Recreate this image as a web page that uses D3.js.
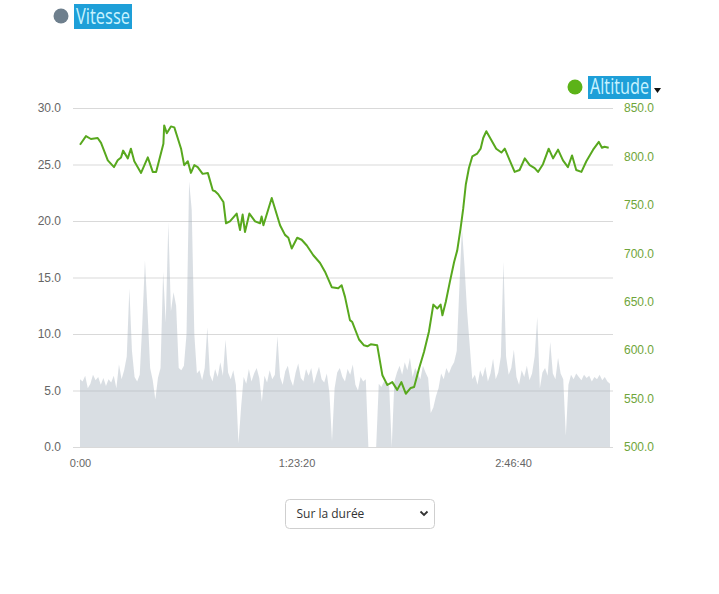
<!DOCTYPE html>
<html>
<head>
<meta charset="utf-8">
<script src="https://cdn.jsdelivr.net/npm/d3@7"></script>
<style>
  body { margin: 0; background: #fff; }
  svg { display: block; }
</style>
</head>
<body>
<svg width="719" height="594"></svg>
<script>
const width = 719
const height = 594

// speed (km/h), one reading per minute from 0:00
const speedValues = [
  6.0, 5.8, 6.3, 5.2, 5.6, 6.4, 5.9, 6.2, 5.5, 6.1,
  5.4, 6.0, 5.7, 6.3, 5.2, 7.3, 6.0, 6.8, 8.0, 14.0,
  8.5, 6.2, 5.8, 6.4, 11.0, 16.5, 12.0, 7.0, 5.9, 4.2,
  6.1, 7.0, 15.5, 11.0, 19.9, 12.0, 13.7, 12.5, 7.0, 6.8,
  7.2, 10.0, 23.5, 21.0, 10.0, 6.5, 6.8, 5.9, 7.0, 10.6,
  6.4, 5.8, 6.9, 6.2, 7.5, 6.3, 9.5, 6.6, 6.0, 6.8,
  5.5, 0.3, 3.5, 6.2, 5.6, 6.9, 5.8, 6.5, 7.0, 6.1,
  4.0, 6.3, 5.7, 6.8, 6.0, 6.4, 9.8, 6.2, 5.5, 6.7,
  7.2, 6.0, 5.4, 6.6, 7.4, 6.1, 5.8, 6.9, 6.3, 7.0,
  5.6, 6.4, 7.1, 6.0, 5.7, 6.5, 4.8, 0.5, 5.2, 6.6,
  7.0, 6.2, 5.8, 6.9, 6.4, 7.3, 5.5, 5.0, 6.2, 5.8,
  6.0, 0, 0, 0, 0, 5.6, 5.3, 5.8, 5.6, 5.4,
  0, 5.8, 6.6, 7.2, 6.4, 7.5, 6.8, 7.9, 6.2, 7.0,
  6.5, 6.0, 7.2, 6.6, 6.1, 3.0, 3.5, 4.5, 5.2, 6.5,
  6.0, 7.0, 6.5, 7.1, 7.5, 8.5, 14.0, 19.4, 16.0, 12.0,
  9.0, 6.0, 6.4, 5.5, 6.8, 6.2, 7.1, 5.8, 6.5, 7.8,
  6.0, 6.6, 8.0, 16.4, 8.0, 6.4, 7.0, 8.6, 6.2, 5.5,
  6.8, 6.2, 7.2, 5.9, 6.5, 8.0, 11.5, 5.2, 6.6, 7.0,
  6.3, 9.3, 6.5, 6.0, 7.9, 6.5, 6.0, 1.0, 5.5, 6.4,
  6.0, 6.5, 6.2, 5.9, 6.4, 6.1, 6.3, 5.8, 6.2, 6.0,
  6.4, 5.9, 6.2, 5.8, 5.6
]

// altitude (m) at elapsed minutes
const altMinutes = [
  0, 2.3, 4.2, 6.8, 8.1, 10.7, 13.1, 14.5, 15.8, 16.6, 18.4, 19.6, 20.9, 23.5, 26.1, 28.0, 29.3,
  32.1, 32.4, 33.4, 35.0, 36.3, 37.6, 38.9, 40.1, 41.5, 42.7, 44.0, 45.3, 47.2, 49.2, 51.1, 52.0,
  53.2, 55.2, 56.2, 57.7, 60.3, 61.6, 62.6, 63.5, 65.2, 67.4, 69.3, 69.9, 70.6, 73.8, 77.0, 78.9,
  80.2, 81.5, 83.6, 85.3, 87.3, 89.8, 92.4, 94.3, 96.9, 99.4, 100.7, 102.0, 103.9, 104.8, 107.4,
  109.3, 110.6, 111.9, 114.4, 116.4, 118.3, 120.2, 122.1, 123.7, 125.4, 127.3, 128.6, 130.5, 132.4,
  134.3, 136.0, 137.5, 138.8, 139.5, 140.8, 142.4, 144.0, 145.2, 146.5, 147.5, 148.5, 149.7, 151.0,
  152.9, 154.2, 155.2, 156.4, 158.3, 160.2, 162.2, 163.5, 165.4, 167.3, 169.2, 171.2, 173.1, 175.0,
  176.3, 178.2, 180.4, 182.1, 184.0, 185.9, 187.8, 189.4, 191.0, 193.0, 194.9, 197.5, 199.7, 200.9,
  201.9, 203.5
]
const altValues = [
  812, 821, 818, 819, 814, 796, 789, 796, 799, 806, 798, 808, 795, 783, 799, 784, 784,
  813, 832, 824, 831, 830, 819, 808, 791, 795, 783, 791, 789, 782, 783, 765, 764,
  761, 753, 731, 733, 741, 724, 740, 722, 741, 733, 731, 738, 729, 757, 729, 719,
  716, 705, 716, 714, 708, 698, 690, 681, 665, 664, 667, 655, 631, 629, 611,
  605, 604, 606, 605, 574, 564, 567, 559, 567, 555, 561, 562, 581, 598,
  619, 647, 643, 647, 636, 650, 671, 691, 703, 726, 746, 771, 788, 800,
  803, 808, 819, 826, 817, 808, 804, 808, 796, 784, 786, 798, 791, 788,
  784, 792, 808, 798, 807, 796, 789, 801, 786, 784, 795, 807, 815, 809,
  810, 809
]

const speedTicks = [0, 5, 10, 15, 20, 25, 30]
const altTicks = [500, 550, 600, 650, 700, 750, 800, 850]
const timeTicks = [0, 5000, 10000]

const speed = speedValues.map((v, i) => ({t: i * 60, v: v}))
const alt = altMinutes.map((m, i) => ({t: m * 60, v: altValues[i]}))

const svg = d3.select('svg')

const x = d3.scaleLinear().domain([0, 12240]).range([80, 610])
const ySpeed = d3.scaleLinear().domain([0, 30]).range([447, 108])
const yAlt = d3.scaleLinear().domain([500, 850]).range([447, 108])

function fmtTime(s){
  if(s === 0) return '0:00'
  const h = Math.floor(s / 3600), m = Math.floor(s % 3600 / 60), sec = s % 60
  return `${h}:${String(m).padStart(2,'0')}:${String(sec).padStart(2,'0')}`
}

// grid
svg.append('g')
  .selectAll('line')
  .data(speedTicks)
  .enter().append('line')
  .attr('x1', 73).attr('x2', 613)
  .attr('y1', d => ySpeed(d) + 0.5).attr('y2', d => ySpeed(d) + 0.5)
  .attr('stroke', '#d9d9d9')

// speed area
svg.append('path')
  .datum(speed)
  .attr('fill', 'rgb(170,182,194)')
  .attr('fill-opacity', 0.45)
  .attr('d', d3.area().x(d => x(d.t)).y0(ySpeed(0)).y1(d => ySpeed(d.v)))

// altitude line
svg.append('path')
  .datum(alt)
  .attr('fill', 'none')
  .attr('stroke', '#58a81e')
  .attr('stroke-width', 2)
  .attr('stroke-linejoin', 'round')
  .attr('d', d3.line().x(d => x(d.t)).y(d => yAlt(d.v)))

// axes
const left = svg.append('g')
  .attr('transform', 'translate(65,0)')
  .call(d3.axisLeft(ySpeed).tickValues(speedTicks).tickFormat(d3.format('.1f')).tickSize(0).tickPadding(4))
const right = svg.append('g')
  .attr('transform', 'translate(620,0)')
  .call(d3.axisRight(yAlt).tickValues(altTicks).tickFormat(d3.format('.1f')).tickSize(0).tickPadding(4))
const bottom = svg.append('g')
  .attr('transform', 'translate(0,447)')
  .call(d3.axisBottom(x).tickValues(timeTicks).tickFormat(fmtTime).tickSize(0).tickPadding(12))

svg.selectAll('.domain').remove()
left.selectAll('text').attr('fill', '#666').style('font', '12px "Liberation Sans", Arial, sans-serif')
right.selectAll('text').attr('fill', '#6fa53a').style('font', '12px "Liberation Sans", Arial, sans-serif')
bottom.selectAll('text').attr('fill', '#666').style('font', '11px "Liberation Sans", Arial, sans-serif')

// legends (highlighted labels, narrow type)
function legend(cx, cy, color, label, tx, base, len, top, h){
  svg.append('circle').attr('cx', cx).attr('cy', cy).attr('r', 7.5).attr('fill', color)
  svg.append('rect').attr('fill', '#1e9fd8')
    .attr('x', tx - 2).attr('y', top).attr('width', len + 4).attr('height', h)
  svg.append('text')
    .attr('x', tx).attr('y', base)
    .attr('fill', '#c9f3ff')
    .attr('textLength', len)
    .attr('lengthAdjust', 'spacingAndGlyphs')
    .style('font', '21px "Open Sans", sans-serif')
    .text(label)
}
legend(61, 16, '#6e7f8d', 'Vitesse', 76, 24, 54, 4, 25)
legend(575, 87, '#5cb318', 'Altitude', 590, 94, 59, 76, 23)
svg.append('path')
  .attr('d', 'M654,88 l7,0 l-3.5,5 z')
  .attr('fill', '#111')

// select box
const sel = svg.append('g').attr('transform', 'translate(285.5,499.5)')
sel.append('rect').attr('width', 149).attr('height', 29).attr('rx', 4)
  .attr('fill', '#fff').attr('stroke', '#cfcfcf')
sel.append('text').attr('x', 11).attr('y', 18.5)
  .attr('fill', '#333')
  .style('font', '12px "Open Sans", sans-serif')
  .text('Sur la durée')
sel.append('path').attr('d', 'M135,12 l3.5,3.5 l3.5,-3.5')
  .attr('fill', 'none').attr('stroke', '#333').attr('stroke-width', 1.8)
</script>
</body>
</html>
